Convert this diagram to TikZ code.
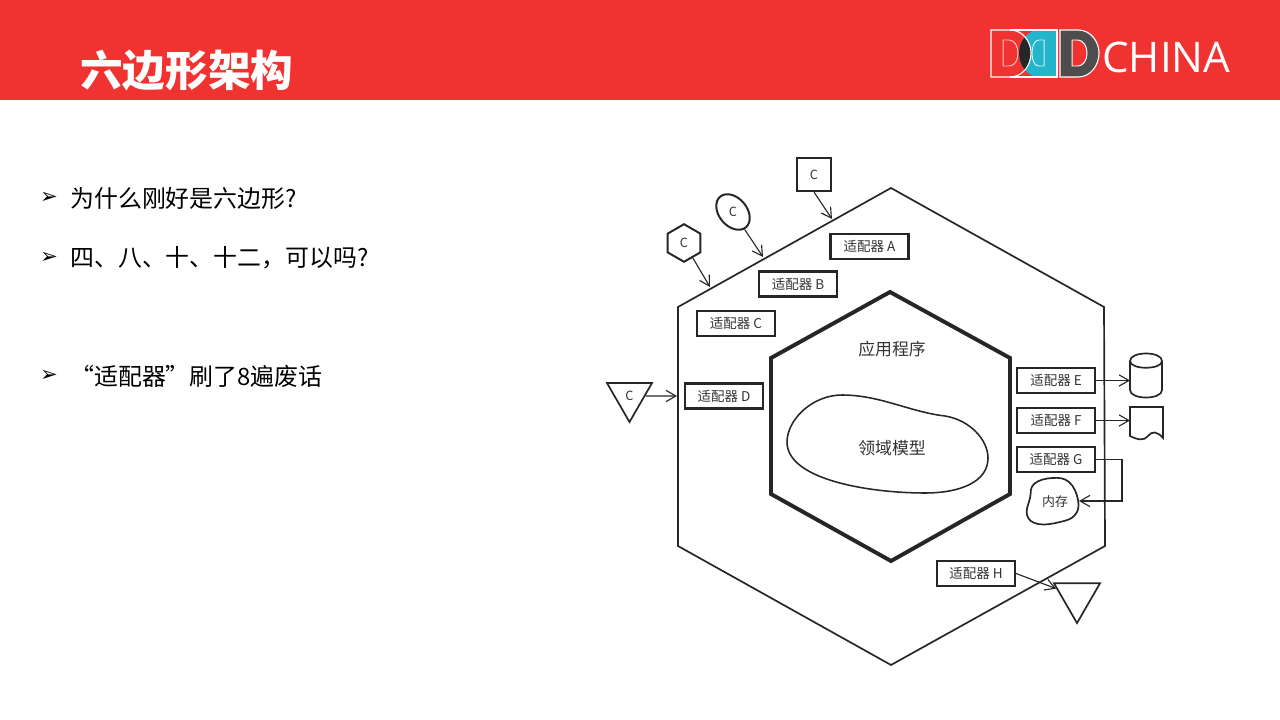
\documentclass[tikz,border=0pt]{standalone}
\usepackage{fontspec}
\setmainfont{Noto Sans CJK SC}
\newfontfamily\logofont{Open Sans}
\newfontfamily\bulletfont{DejaVu Sans}
\usepackage{xcolor}
\usetikzlibrary{shapes.geometric, arrows.meta, positioning, calc}
\definecolor{barred}{HTML}{F03330}
\definecolor{logoteal}{HTML}{22B5CC}
\definecolor{logogray}{HTML}{4D4D4D}
\definecolor{inkgray}{HTML}{333333}

\begin{document}
\begin{tikzpicture}[
    x=0.025cm, y=-0.025cm,
    adapter/.style={draw=black!85, line width=1.5pt, minimum width=1.95cm, minimum height=0.625cm, inner sep=0pt, font=\fontsize{9.6pt}{11pt}\selectfont, text=inkgray},
    client/.style={draw=black!85, line width=1.4pt, inner sep=0pt, font=\fontsize{9pt}{10pt}\selectfont, text=inkgray},
    tri/.style={regular polygon, regular polygon sides=3, shape border rotate=180, line width=1.2pt},
    link/.style={draw=black!85, line width=0.8pt, -{Straight Barb[length=7pt, width=8pt, line width=0.8pt]}},
    point/.style={font=\fontsize{17pt}{20pt}\selectfont, anchor=west, inner sep=0pt},
    bullet/.style={font=\bulletfont\fontsize{15pt}{17pt}\selectfont, anchor=center, inner sep=0pt},
    inner label/.style={font=\fontsize{12pt}{14pt}\selectfont, text=inkgray, inner sep=0pt}
]
    \useasboundingbox (0,0) rectangle (1280,720);

    % Title bar
    \fill[barred] (0,0) rectangle (1280,100);
    \node[font=\bfseries\fontsize{30.3pt}{34pt}\selectfont, text=white, anchor=west, inner sep=0pt] (title) at (80,71) {六边形架构};

    % Logo
    \fill[logoteal] (1057,30) -- (1040,30) .. controls (1027,30) and (1019,42) .. (1019,53) .. controls (1019,65) and (1027,77) .. (1040,77) -- (1057,77) -- cycle;
    \begin{scope}
        \clip (991,30) -- (1010,30) .. controls (1023,30) and (1031,42) .. (1031,53) .. controls (1031,65) and (1023,77) .. (1010,77) -- (991,77) -- cycle;
        \fill[black!85] (1057,30) -- (1040,30) .. controls (1027,30) and (1019,42) .. (1019,53) .. controls (1019,65) and (1027,77) .. (1040,77) -- (1057,77) -- cycle;
    \end{scope}
    \draw[white, line width=0.8pt] (991,30) -- (1010,30) .. controls (1023,30) and (1031,42) .. (1031,53) .. controls (1031,65) and (1023,77) .. (1010,77) -- (991,77) -- cycle;
    \draw[white, line width=0.8pt] (1010,30) -- (1057,30) -- (1057,77) -- (1010,77);
    \draw[white!70!barred, line width=0.7pt] (1003,40) -- (1009,40) .. controls (1015,40) and (1018,47) .. (1018,53) .. controls (1018,60) and (1015,66) .. (1009,66) -- (1003,66) -- cycle;
    \draw[white!80!logoteal, line width=0.7pt] (1044,40) -- (1039,40) .. controls (1034,40) and (1032,47) .. (1032,53) .. controls (1032,60) and (1034,66) .. (1039,66) -- (1044,66) -- cycle;
    \draw[white, fill=logogray, line width=0.8pt] (1060,30) -- (1078,30) .. controls (1091,30) and (1099,42) .. (1099,53) .. controls (1099,65) and (1091,77) .. (1078,77) -- (1060,77) -- cycle;
    \draw[white, fill=barred, line width=0.7pt] (1072,40) -- (1077,40) .. controls (1084,40) and (1087,47) .. (1087,53) .. controls (1087,60) and (1084,66) .. (1077,66) -- (1072,66) -- cycle;
    \node[font=\logofont\fontsize{30pt}{34pt}\selectfont, text=white, anchor=west, inner sep=0pt] (china) at (1102,57) {CHINA};

    % Bullet points
    \node[bullet] (b1) at (49,198) {➢};
    \node[point, right=15pt of b1.center] (p1) {为什么刚好是六边形?};
    \node[bullet] (b2) at (49,258) {➢};
    \node[point, right=15pt of b2.center] (p2) {四、八、十、十二，可以吗?};
    \node[bullet] (b3) at (49,376) {➢};
    \node[point, right=15pt of b3.center] (p3) {“适配器”刷了8遍废话};

    % Outer and inner hexagon
    \draw[black!85, line width=1.2pt, line join=miter] (891,188) -- (1104,307) -- (1105,546) -- (891,665) -- (678,546) -- (678,307) -- cycle;
    \draw[black!85, line width=2.8pt, line join=miter] (890,292) -- (1010,358) -- (1010,494) -- (891,561) -- (771,494) -- (771,358) -- cycle;
    \node[inner label] (app) at (892,349) {应用程序};

    % Domain model
    \draw[black!85, line width=1.1pt] (787,442) .. controls (787,420) and (812,395) .. (842,395) .. controls (880,395) and (910,412) .. (945,416) .. controls (970,420) and (988,440) .. (988,458) .. controls (988,482) and (960,493) .. (925,493) .. controls (870,493) and (787,480) .. (787,442) -- cycle;
    \node[inner label] (domain) at (892,448) {领域模型};

    % Adapters
    \node[adapter] (ada) at (869.5,246.5) {适配器 A};
    \node[adapter] (adb) at (798,284) {适配器 B};
    \node[adapter] (adc) at (736,323.5) {适配器 C};
    \node[adapter] (add) at (724,396) {适配器 D};
    \node[adapter] (ade) at (1056,380.5) {适配器 E};
    \node[adapter] (adf) at (1056,420.5) {适配器 F};
    \node[adapter] (adg) at (1056,459.5) {适配器 G};
    \node[adapter] (adh) at (976,573.5) {适配器 H};

    % Clients
    \node[client, minimum size=0.83cm] (csquare) at (814,174.5) {C};
    \node[client, ellipse, minimum width=1cm, minimum height=0.7cm, rotate=-50] (cellipse) at (733,212) {\rotatebox{50}{C}};
    \node[client, regular polygon, regular polygon sides=6, shape border rotate=30, minimum size=0.94cm] (chex) at (684,243) {C};
    \node[client, tri, minimum size=1.3cm] (ctri) at (629.5,396) {C};

    % Storage on the right
    \draw[black!85, line width=1.2pt] (1130,361) .. controls (1130,351) and (1162,351) .. (1162,361) -- (1162,390) .. controls (1162,400) and (1130,400) .. (1130,390) -- cycle;
    \draw[black!85, line width=1.2pt] (1130,361) .. controls (1130,370) and (1162,370) .. (1162,361);
    \coordinate (store) at (1130,380.5);
    \draw[black!85, line width=1.2pt] (1130,407) -- (1163,407) -- (1163,438) .. controls (1157,431) and (1152,431) .. (1148,436) .. controls (1144,441) and (1138,440) .. (1130,436) -- cycle;
    \coordinate (report) at (1130,420.5);
    \draw[black!85, line width=1.2pt] plot[smooth cycle, tension=0.7] coordinates {(1034,484) (1052,478) (1069,482) (1078,500) (1075,515) (1060,522) (1038,524) (1027,515) (1030,498)};
    \node[font=\fontsize{9.2pt}{11pt}\selectfont, text=inkgray, inner sep=0pt] (memory) at (1055,502) {内存};
    \coordinate (memin) at (1079,501);
    \node[draw=black!85, tri, minimum size=1.33cm] (htri) at (1077,596.5) {};

    % Connectors
    \coordinate (hita) at (832,219);
    \coordinate (hitb) at (763,257);
    \coordinate (hitc) at (710,287);
    \coordinate (hitd) at (677,396);
    \draw[link] (csquare.south) -- (hita);
    \draw[link] (cellipse) -- (hitb);
    \draw[link] (chex) -- (hitc);
    \draw[link] (ctri.east) -- (hitd);
    \draw[link] (ade.east) -- (store);
    \draw[link] (adf.east) -- (report);
    \draw[link] (adg.east) -- (1122,459.5) -- (1122,501) -- (memin);
    \draw[link] (adh.east) -- (htri);
\end{tikzpicture}
\end{document}
